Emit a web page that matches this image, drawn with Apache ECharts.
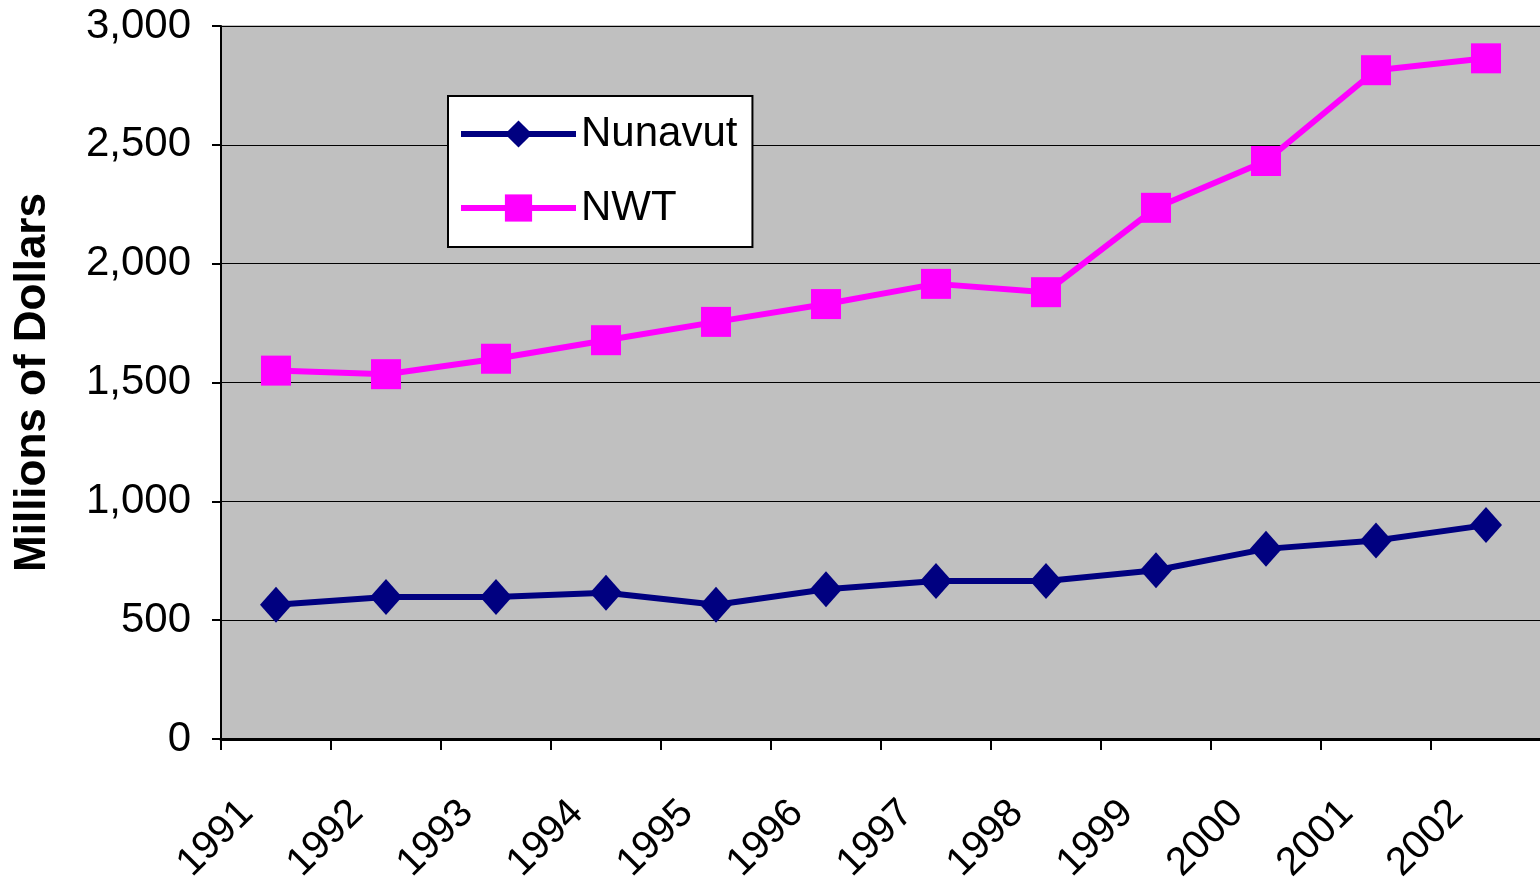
<!DOCTYPE html>
<html>
<head>
<meta charset="utf-8">
<script src="https://cdn.jsdelivr.net/npm/echarts@6/dist/echarts.min.js"></script>
<style>
html,body{margin:0;padding:0;background:#fff;}
#chart{width:1540px;height:880px;}
</style>
</head>
<body>
<div id="chart"></div>
<script>
const years = ['1991','1992','1993','1994','1995','1996','1997','1998','1999','2000','2001','2002'];
const nunavut = [565, 597, 597, 615, 565, 630, 665, 665, 710, 800, 835, 900];
const nwt = [1550, 1535, 1600, 1678, 1755, 1830, 1915, 1880, 2235, 2432, 2814, 2864];
const yTicks = [0, 500, 1000, 1500, 2000, 2500, 3000];

const FONT = "'Liberation Sans', Arial, sans-serif";
const chart = echarts.init(document.getElementById('chart'));
chart.setOption({
  animation: false,
  backgroundColor: '#ffffff',
  grid: {
    left: 221, right: -1, top: 26, bottom: 141,
    containLabel: false, outerBoundsMode: 'none',
    show: true, backgroundColor: '#C0C0C0', borderColor: '#808080', borderWidth: 1
  },
  legend: {
    orient: 'vertical',
    left: 448, top: 96,
    backgroundColor: '#ffffff',
    borderColor: '#000000', borderWidth: 2,
    padding: [17, 15, 18, 10],
    itemWidth: 115, itemHeight: 34, itemGap: 32, itemTextGap: 10,
    lineStyle: { width: 6 },
    textStyle: { fontFamily: FONT, fontSize: 42, color: '#000' },
    data: ['Nunavut', 'NWT']
  },
  xAxis: {
    type: 'category',
    data: years,
    boundaryGap: true,
    axisLine: { lineStyle: { color: '#000', width: 3 } },
    axisTick: { show: true, length: 11, lineStyle: { color: '#000', width: 2 } },
    axisLabel: {
      interval: 0, rotate: 45, margin: 39,
      padding: [0, 41, 0, 0],
      fontFamily: FONT, fontSize: 40, color: '#000'
    }
  },
  yAxis: {
    type: 'value',
    min: 0, max: 3000, interval: 500,
    name: 'Millions of Dollars',
    nameLocation: 'middle',
    nameGap: 166,
    nameTextStyle: { fontFamily: FONT, fontSize: 44, fontWeight: 'bold', color: '#000' },
    axisLine: { show: true, lineStyle: { color: '#000', width: 2 } },
    axisTick: { show: true, inside: false, length: 9, lineStyle: { color: '#000', width: 2 } },
    axisLabel: {
      margin: 30,
      fontFamily: FONT, fontSize: 42, color: '#000',
      formatter: v => v.toLocaleString('en-US')
    },
    splitLine: { show: true, lineStyle: { color: '#000', width: 1 } }
  },
  series: [
    {
      name: 'Nunavut', type: 'line', data: nunavut,
      symbol: 'diamond', symbolSize: [32, 36],
      lineStyle: { color: '#000080', width: 6 },
      itemStyle: { color: '#000080' }
    },
    {
      name: 'NWT', type: 'line', data: nwt,
      symbol: 'rect', symbolSize: 30,
      lineStyle: { color: '#FF00FF', width: 6 },
      itemStyle: { color: '#FF00FF' }
    }
  ]
});
</script>
</body>
</html>
